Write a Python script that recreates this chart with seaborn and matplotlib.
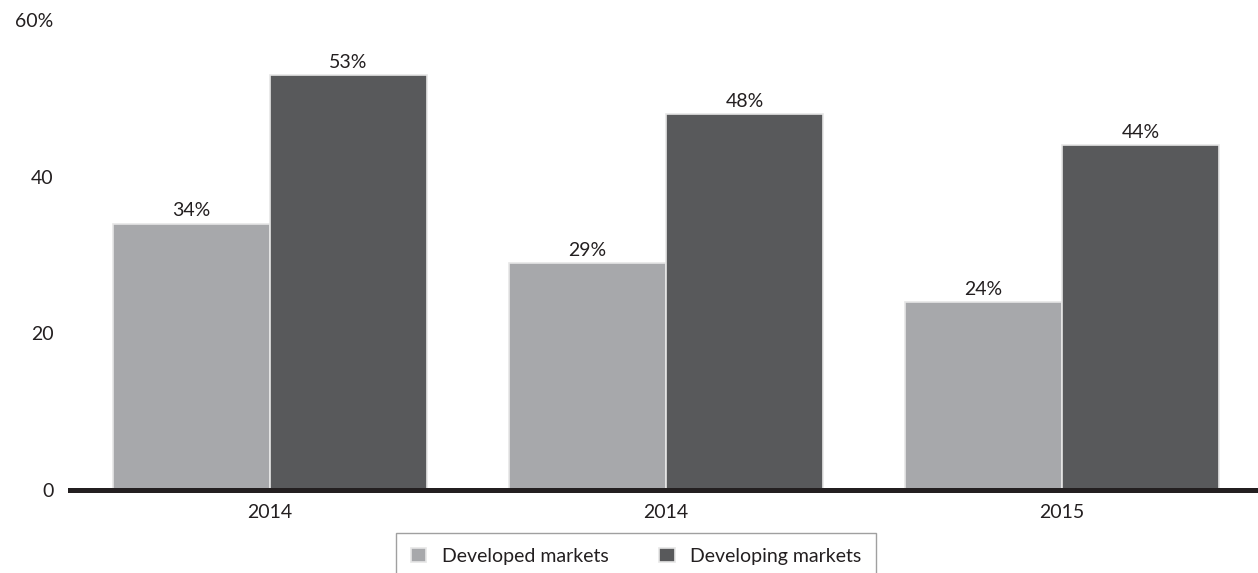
import matplotlib
matplotlib.use("Agg")
import matplotlib.pyplot as plt
import seaborn as sns
import pandas as pd

years = ["2014", "2014", "2015"]
series_names = ["Developed markets", "Developing markets"]
developed = [34, 29, 24]
developing = [53, 48, 44]
ytick_values = [0, 20, 40, 60]
ytick_labels = ["0", "20", "40", "60%"]
colors = ["#a7a8ab", "#58595b"]

rows = []
for i, y in enumerate(years):
    rows.append({"group": i, "series": series_names[0], "value": developed[i]})
    rows.append({"group": i, "series": series_names[1], "value": developing[i]})
df = pd.DataFrame(rows)

sns.set_theme(style="white")
plt.rcParams["font.family"] = ["Lato", "DejaVu Sans"]

W, H = 1258, 573
fig = plt.figure(figsize=(W / 100, H / 100), dpi=100)
ax = fig.add_axes([70 / W, 83 / H, (W - 70) / W, (490 - 20) / H])

sns.barplot(data=df, x="group", y="value", hue="series", hue_order=series_names,
            palette=colors, saturation=1, width=0.793, edgecolor="#e6e6e6",
            linewidth=1.2, ax=ax, legend=True)

ax.set_xlim(-0.505, 2.495)
ax.set_ylim(0, 60)
ax.set_yticks(ytick_values)
ax.set_yticklabels(ytick_labels)
ax.set_xticks(range(len(years)))
ax.set_xticklabels(years)
ax.set_xlabel("")
ax.set_ylabel("")
ax.tick_params(axis="both", length=0, labelsize=14, colors="#231f20")
ax.tick_params(axis="y", pad=12)
ax.tick_params(axis="x", pad=10)

for s in ["top", "right", "left"]:
    ax.spines[s].set_visible(False)
ax.spines["bottom"].set_color("#231f20")
ax.spines["bottom"].set_linewidth(3.6)
ax.spines["bottom"].set_zorder(5)

for cont in ax.containers:
    labels = [f"{int(v)}%" for v in cont.datavalues]
    ax.bar_label(cont, labels=labels, padding=3, fontsize=14, color="#231f20")

leg = ax.get_legend()
if leg is not None:
    leg.remove()
handles, labs = ax.get_legend_handles_labels()
fig.legend(handles[:2], labs[:2], loc="upper center",
           bbox_to_anchor=(636 / W, 1 - 533 / H), ncol=2, frameon=True,
           fancybox=False, edgecolor="#888888", fontsize=14,
           handlelength=0.8, handleheight=0.8, columnspacing=2.6,
           borderpad=0.75, borderaxespad=0, handletextpad=0.8,
           labelcolor="#231f20")
fig.legends[0].get_frame().set_linewidth(1.0)

fig.savefig("out.png", dpi=100)
